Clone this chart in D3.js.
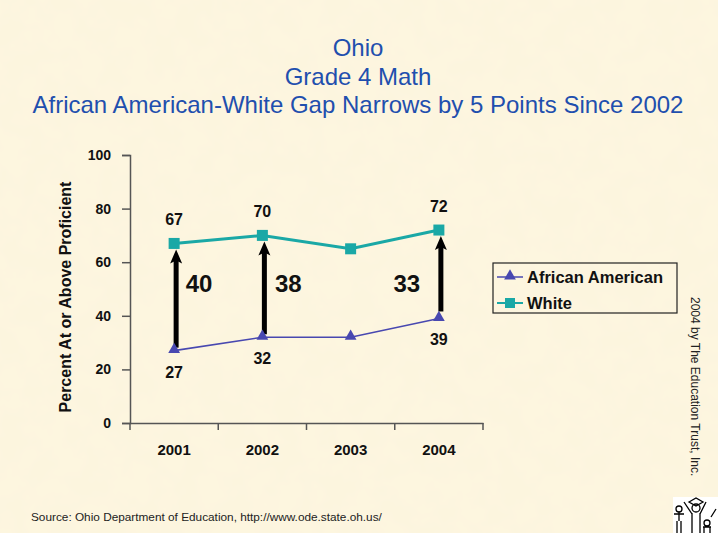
<!DOCTYPE html>
<html><head><meta charset="utf-8">
<script src="https://cdn.jsdelivr.net/npm/d3@7"></script>
<style>
html,body{margin:0;padding:0;background:#fdf5dd;}
svg{display:block;font-family:"Liberation Sans",Arial,sans-serif;}
</style></head>
<body>
<svg id="c" width="718" height="533"></svg>
<script>
const years = ["2001","2002","2003","2004"];
const africanAmerican = [27,32,32,39];
const white = [67,70,65,72];
const gapYears = ["2001","2002","2004"];
const gapLabels = ["40","38","33"];
const yTicks = [0,20,40,60,80,100];
const titleLines = ["Ohio","Grade 4 Math","African American-White Gap Narrows by 5 Points Since 2002"];

const svg = d3.select("#c");
const W=718,H=533;
const defs = svg.append("defs");
const f = defs.append("filter").attr("id","tex");
f.append("feTurbulence").attr("type","fractalNoise").attr("baseFrequency",0.04).attr("numOctaves",3).attr("seed",3).attr("result","n");
f.append("feColorMatrix").attr("in","n").attr("type","matrix")
 .attr("values","0 0 0 0 0.93  0 0 0 0 0.86  0 0 0 0 0.70  0 0 0 0.16 0");
svg.append("rect").attr("width",W).attr("height",H).attr("fill","#fdf6df");
svg.append("rect").attr("width",W).attr("height",H).attr("filter","url(#tex)");

// title
svg.append("g").selectAll("text").data(titleLines).join("text")
  .attr("x",358).attr("y",(d,i)=>56+i*28.5).attr("text-anchor","middle")
  .attr("font-size",24).attr("fill","#1f4fae").text(d=>d);

const x = d3.scaleBand().domain(years).range([130,483]);
const y = d3.scaleLinear().domain([0,100]).range([423,155]);
const cx = d=>x(d)+x.bandwidth()/2;

// axes
const yAx = svg.append("g").attr("transform","translate(130,0)")
  .call(d3.axisLeft(y).tickValues(yTicks).tickSize(8).tickPadding(11));
const xAx = svg.append("g").attr("transform","translate(0,423)")
  .call(d3.axisBottom(x).tickSize(0).tickPadding(21));
[yAx,xAx].forEach(g=>{
  g.select(".domain").attr("stroke","#555").attr("stroke-width",1.5);
  g.selectAll("line").attr("stroke","#555").attr("stroke-width",1.5);
  g.selectAll("text").attr("font-family","Liberation Sans, Arial, sans-serif")
    .attr("font-weight","bold").attr("fill","#111");
});
yAx.selectAll("text").attr("font-size",14);
xAx.selectAll("text").attr("font-size",15);
// x tick marks at band boundaries
svg.append("g").selectAll("line").data(years).join("line")
  .attr("x1",d=>x(d)+x.bandwidth()).attr("x2",d=>x(d)+x.bandwidth())
  .attr("y1",423).attr("y2",430).attr("stroke","#555").attr("stroke-width",1.5);
svg.append("line").attr("x1",130).attr("x2",130).attr("y1",423).attr("y2",430).attr("stroke","#555").attr("stroke-width",1.5);

// y title
svg.append("text").attr("transform","translate(71,297) rotate(-90)")
  .attr("text-anchor","middle").attr("font-size",16).attr("font-weight","bold").attr("fill","#111")
  .text("Percent At or Above Proficient");

// lines
const line = d3.line().x((d,i)=>cx(years[i])).y(d=>y(d));
svg.append("path").datum(white).attr("d",line).attr("fill","none").attr("stroke","#1aa8a6").attr("stroke-width",3);
svg.append("path").datum(africanAmerican).attr("d",line).attr("fill","none").attr("stroke","#4848b0").attr("stroke-width",1.6);

// arrows
gapYears.forEach((yr,k)=>{
  const i = years.indexOf(yr);
  const ax = cx(yr)+2;
  const bottom = k===2 ? y(africanAmerican[i])-7 : y(africanAmerican[i])-3;
  const tip = y(white[i])+6;
  svg.append("line").attr("x1",ax).attr("x2",ax)
    .attr("y1",bottom).attr("y2",tip+10)
    .attr("stroke","#000").attr("stroke-width",5);
  svg.append("path").attr("d",`M${ax},${tip} L${ax+6},${tip+14} L${ax},${tip+11} L${ax-6},${tip+14} Z`)
    .attr("fill","#000");
});
// gap labels
const gapX = {"2001":cx("2001")+25,"2002":cx("2002")+26,"2004":cx("2004")-32};
svg.append("g").selectAll("text").data(gapYears).join("text")
  .attr("x",d=>gapX[d]).attr("y",292).attr("text-anchor","middle")
  .attr("font-size",24).attr("font-weight","bold").attr("fill","#111")
  .text((d,k)=>gapLabels[k]);

// markers
const tri = d3.symbol().type(d3.symbolTriangle).size(60);
svg.append("g").selectAll("path").data(africanAmerican).join("path")
  .attr("transform",(d,i)=>`translate(${cx(years[i])},${y(d)-1})`).attr("d",tri)
  .attr("fill","#4848b0");
svg.append("g").selectAll("rect").data(white).join("rect")
  .attr("x",(d,i)=>cx(years[i])-5.5).attr("y",d=>y(d)-5.5).attr("width",11).attr("height",11)
  .attr("fill","#1aa8a6");

// value labels
const labIdx=[0,1,3];
svg.append("g").selectAll("text").data(labIdx).join("text")
  .attr("x",i=>cx(years[i])).attr("y",i=>y(white[i])-18).attr("text-anchor","middle")
  .attr("font-size",16).attr("font-weight","bold").attr("fill","#111").text(i=>white[i]);
svg.append("g").selectAll("text").data(labIdx).join("text")
  .attr("x",i=>cx(years[i])).attr("y",i=>y(africanAmerican[i])+27).attr("text-anchor","middle")
  .attr("font-size",16).attr("font-weight","bold").attr("fill","#111").text(i=>africanAmerican[i]);

// legend
const lg = svg.append("g");
lg.append("rect").attr("x",493).attr("y",263).attr("width",184).attr("height",50)
  .attr("fill","none").attr("stroke","#222").attr("stroke-width",1.2);
const legendItems=[{n:"African American",c:"#4848b0",t:"tri"},{n:"White",c:"#1aa8a6",t:"sq"}];
legendItems.forEach((it,i)=>{
  const yy=277+i*26;
  lg.append("line").attr("x1",497).attr("x2",523).attr("y1",yy).attr("y2",yy).attr("stroke",it.c).attr("stroke-width",it.t==="tri"?1.5:2);
  if(it.t==="tri") lg.append("path").attr("transform",`translate(510,${yy-1})`).attr("d",tri).attr("fill",it.c);
  else lg.append("rect").attr("x",505).attr("y",yy-5).attr("width",10).attr("height",10).attr("fill",it.c);
  lg.append("text").attr("x",527).attr("y",yy+6).attr("font-size",16.5).attr("font-weight","bold").attr("fill","#111").text(it.n);
});

// copyright
svg.append("text").attr("transform","translate(691,297) rotate(90)")
  .attr("font-size",12).attr("fill","#222").text("2004 by The Education Trust, Inc.");
// source
svg.append("text").attr("x",31).attr("y",521).attr("font-size",11.8).attr("fill","#222")
  .text("Source: Ohio Department of Education, http://www.ode.state.oh.us/");

// logo approximation
const lgo = svg.append("g").attr("transform","translate(673,497)");
lgo.append("rect").attr("width",45).attr("height",36).attr("fill","#fff");
const pth = (d)=>lgo.append("path").attr("d",d).attr("fill","none").attr("stroke","#000").attr("stroke-width",1.3);
pth("M3,12 a3,3 0 1,0 6,0 a3,3 0 1,0 -6,0");
pth("M6,15 L6,24 M1,17 L11,17 M4,24 L4,36 M8,24 L8,36");
pth("M16,5 l7,-4 l7,4 l-7,4 z M19,11 a4,4 0 1,0 8,0 a4,4 0 1,0 -8,0");
pth("M11,5 L19,17 M33,5 L27,17 M19,16 L19,36 M27,16 L27,36");
pth("M31,26 a3,3 0 1,0 6,0 a3,3 0 1,0 -6,0 M30,30 L38,30 M31,36 L31,30 M37,36 L37,30 M38,20 L43,12");
</script>
</body></html>
